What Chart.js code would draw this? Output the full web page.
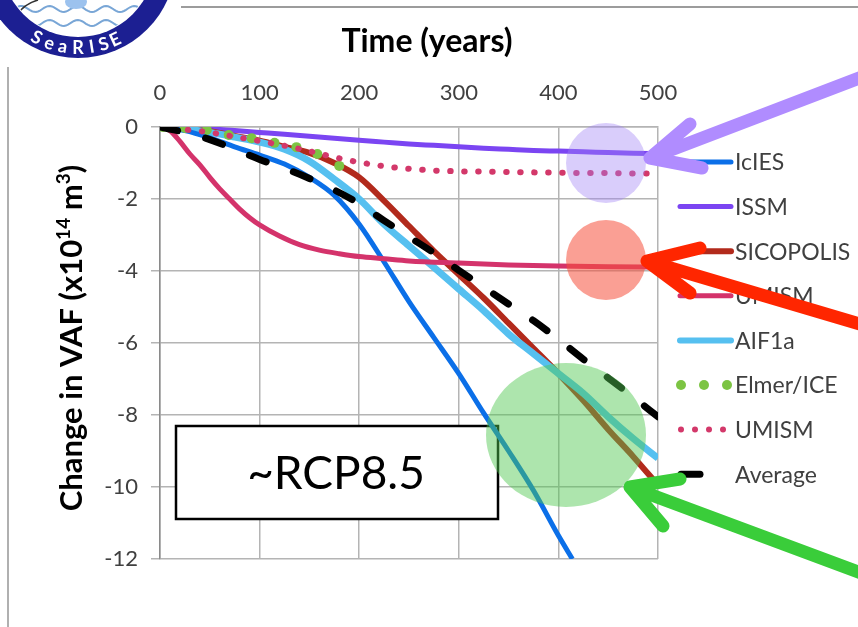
<!DOCTYPE html>
<html>
<head>
<meta charset="utf-8">
<script src="https://cdn.jsdelivr.net/npm/chart.js@4/dist/chart.umd.min.js"></script>
<style>
  html, body { margin: 0; padding: 0; background: #fff; overflow: hidden; }
  canvas { display: block; }
</style>
</head>
<body>
<canvas id="c" width="858" height="627"></canvas>
<script>
// Change in volume above flotation (x10^14 m^3) versus time (years)
const years = [0, 25, 50, 75, 100, 125, 150, 175, 200, 225, 250, 275, 300, 325, 350, 375, 400, 425, 450, 475, 500];

const iciesYears = [0, 25, 50, 75, 100, 125, 150, 175, 200, 225, 250, 275, 300, 325, 350, 375, 400, 414];
const iciesVaf   = [0, -0.1, -0.3, -0.55, -0.78, -1.03, -1.4, -1.9, -2.7, -3.75, -4.85, -5.85, -6.85, -7.95, -9.0, -10.1, -11.35, -12.0];

const issmVaf = [0, -0.02, -0.05, -0.1, -0.15, -0.2, -0.26, -0.31, -0.37, -0.42, -0.47, -0.51, -0.55, -0.59, -0.62, -0.65, -0.67, -0.69, -0.71, -0.73, -0.74];

const sicopolisVaf = [0, -0.04, -0.12, -0.25, -0.38, -0.55, -0.72, -1.0, -1.4, -2.05, -2.75, -3.45, -4.1, -4.75, -5.45, -6.15, -6.85, -7.6, -8.4, -9.15, -9.95];

const umismYears = [0, 10, 20, 30, 40, 50, 60, 70, 80, 90, 100, 120, 140, 160, 180, 200, 225, 250, 300, 350, 400, 450, 500];
const umismVaf   = [0, -0.1, -0.4, -0.75, -1.05, -1.4, -1.72, -2.0, -2.28, -2.52, -2.72, -3.03, -3.27, -3.42, -3.52, -3.6, -3.66, -3.72, -3.78, -3.83, -3.86, -3.88, -3.89];

const aif1aVaf = [0, -0.05, -0.15, -0.28, -0.42, -0.62, -0.95, -1.45, -2.0, -2.7, -3.3, -3.9, -4.5, -5.1, -5.75, -6.3, -6.85, -7.4, -8.05, -8.65, -9.2];

const elmerYears = [3, 25, 47, 69, 92, 115, 137, 158, 180];
const elmerVaf   = [0, -0.03, -0.08, -0.22, -0.31, -0.44, -0.56, -0.75, -1.08];

const umismHiVaf = [0, -0.07, -0.15, -0.27, -0.39, -0.52, -0.67, -0.84, -0.98, -1.09, -1.16, -1.21, -1.23, -1.24, -1.25, -1.26, -1.27, -1.28, -1.28, -1.29, -1.29];

const averageVaf = [0, -0.15, -0.35, -0.62, -0.9, -1.15, -1.43, -1.75, -2.13, -2.6, -3.05, -3.5, -3.98, -4.45, -4.92, -5.38, -5.9, -6.45, -6.97, -7.5, -8.05];

const xTicks = [0, 100, 200, 300, 400, 500];
const yTicks = [0, -2, -4, -6, -8, -10, -12];

const pts = (xs, ys) => xs.map((x, i) => ({ x: x, y: ys[i] }));

const FONT = 'Lato, "Open Sans", sans-serif';
const GRID = '#b4b4b4';

const datasets = [
  { label: 'IcIES', data: pts(iciesYears, iciesVaf), borderColor: '#0b6fe8', borderWidth: 5, order: 4 },
  { label: 'ISSM', data: pts(years, issmVaf), borderColor: '#7b45f2', borderWidth: 5, order: 7 },
  { label: 'SICOPOLIS', data: pts(years, sicopolisVaf), borderColor: '#b22a1c', borderWidth: 6, order: 6 },
  { label: 'UMISM', data: pts(umismYears, umismVaf), borderColor: '#d4336b', borderWidth: 5, order: 3 },
  { label: 'AIF1a', data: pts(years, aif1aVaf), borderColor: '#56c0f0', borderWidth: 7, order: 5 },
  { label: 'Elmer/ICE', data: pts(elmerYears, elmerVaf), showLine: false, pointRadius: 5, pointBorderWidth: 0,
    pointBackgroundColor: '#7cc443', borderColor: '#7cc443', order: 2 },
  { label: 'UMISM', data: pts(years, umismHiVaf), borderColor: '#d3386a', borderWidth: 6,
    borderDash: [0.5, 13.5], borderCapStyle: 'round', order: 1 },
  { label: 'Average', data: pts(years, averageVaf), borderColor: '#000000', borderWidth: 7,
    borderDash: [18, 29], borderCapStyle: 'round', order: 0 }
];
datasets.forEach(d => {
  d.fill = false;
  d.cubicInterpolationMode = 'monotone';
  if (d.pointRadius === undefined) d.pointRadius = 0;
});

function arrow(ctx, tail, tip, barbA, barbB, color, w) {
  ctx.save();
  ctx.strokeStyle = color;
  ctx.lineWidth = w;
  ctx.lineCap = 'round';
  ctx.lineJoin = 'round';
  ctx.beginPath();
  ctx.moveTo(tail[0], tail[1]); ctx.lineTo(tip[0], tip[1]);
  ctx.moveTo(barbA[0], barbA[1]); ctx.lineTo(tip[0], tip[1]); ctx.lineTo(barbB[0], barbB[1]);
  ctx.stroke();
  ctx.restore();
}

function drawLogo(ctx) {
  const cx = 78, cy = -40;
  ctx.save();
  ctx.beginPath(); ctx.arc(cx, cy, 98, 0, Math.PI * 2); ctx.fillStyle = '#1c1f92'; ctx.fill();
  ctx.beginPath(); ctx.arc(cx, cy, 77, 0, Math.PI * 2); ctx.fillStyle = '#ffffff'; ctx.fill();
  ctx.save();
  ctx.beginPath(); ctx.arc(cx, cy, 76, 0, Math.PI * 2); ctx.clip();
  ctx.strokeStyle = '#79a6d6'; ctx.lineWidth = 2;
  [9, 23].forEach(y0 => {
    ctx.beginPath();
    for (let x = 0; x <= 160; x += 2) {
      const y = y0 + 3 * Math.sin(x / 4.5);
      if (x === 0) ctx.moveTo(x, y); else ctx.lineTo(x, y);
    }
    ctx.stroke();
  });
  ctx.fillStyle = '#9cc2ee';
  ctx.beginPath(); ctx.ellipse(76, 2, 11, 7, 0, 0, Math.PI * 2); ctx.fill();
  ctx.strokeStyle = '#333'; ctx.lineWidth = 1.5;
  ctx.beginPath(); ctx.moveTo(18, 14); ctx.quadraticCurveTo(24, 4, 38, 0); ctx.stroke();
  ctx.restore();
  const letters = 'SeaRISE';
  const angles = [118, 109, 100, 90, 81, 73, 65];
  ctx.fillStyle = '#ffffff';
  ctx.font = 'bold 18px ' + FONT;
  ctx.textAlign = 'center'; ctx.textBaseline = 'middle';
  for (let i = 0; i < letters.length; i++) {
    const a = angles[i] * Math.PI / 180;
    ctx.save();
    ctx.translate(cx + 88 * Math.cos(a), cy + 88 * Math.sin(a));
    ctx.rotate(a - Math.PI / 2);
    ctx.fillText(letters[i], 0, 0);
    ctx.restore();
  }
  ctx.restore();
}

function drawYTitle(ctx) {
  const big = 'bold 31px ' + FONT, small = 'bold 19px ' + FONT;
  const parts = [['Change in VAF (x10', big, 0], ['14', small, -12], [' m', big, 0], ['3', small, -12], [')', big, 0]];
  ctx.save();
  let total = 0;
  parts.forEach(p => { ctx.font = p[1]; total += ctx.measureText(p[0]).width; });
  ctx.translate(82, 338);
  ctx.rotate(-Math.PI / 2);
  ctx.fillStyle = '#000';
  ctx.textBaseline = 'alphabetic';
  ctx.textAlign = 'left';
  let x = -total / 2;
  parts.forEach(p => {
    ctx.font = p[1];
    ctx.fillText(p[0], x, p[2]);
    x += ctx.measureText(p[0]).width;
  });
  ctx.restore();
}

function drawLegend(chart) {
  const ctx = chart.ctx;
  ctx.save();
  chart.data.datasets.forEach((ds, i) => {
    const y = 162 + i * 44.6;
    ctx.strokeStyle = ds.borderColor;
    ctx.fillStyle = ds.borderColor;
    ctx.lineCap = 'round';
    if (ds.showLine === false) {
      [681, 704, 727].forEach(x => { ctx.beginPath(); ctx.arc(x, y, ds.pointRadius, 0, Math.PI * 2); ctx.fill(); });
    } else if (ds.borderDash && ds.borderDash[0] < 1) {
      [681, 695, 709, 723].forEach(x => { ctx.beginPath(); ctx.arc(x, y, ds.borderWidth / 2, 0, Math.PI * 2); ctx.fill(); });
    } else if (ds.borderDash) {
      ctx.lineWidth = ds.borderWidth;
      ctx.beginPath(); ctx.moveTo(681, y); ctx.lineTo(700, y); ctx.stroke();
    } else {
      ctx.lineWidth = Math.min(ds.borderWidth, 6);
      ctx.beginPath(); ctx.moveTo(680, y); ctx.lineTo(731, y); ctx.stroke();
    }
    ctx.fillStyle = '#404040';
    ctx.font = '23px ' + FONT;
    ctx.textAlign = 'left';
    ctx.textBaseline = 'middle';
    ctx.fillText(ds.label, 735, y + 1);
  });
  ctx.restore();
}

const decor = {
  id: 'decor',
  beforeDatasetsDraw(chart) {
    const ctx = chart.ctx;
    ctx.save();
    ctx.fillStyle = '#ffffff';
    ctx.fillRect(176, 426, 322, 93);
    ctx.strokeStyle = '#000'; ctx.lineWidth = 2.5;
    ctx.strokeRect(176, 426, 322, 93);
    ctx.fillStyle = '#000';
    ctx.font = '46px ' + FONT;
    ctx.textAlign = 'center'; ctx.textBaseline = 'middle';
    ctx.fillText('~RCP8.5', 336, 474);
    ctx.restore();
  },
  afterDraw(chart) {
    const ctx = chart.ctx;
    ctx.save();
    // page frame lines
    ctx.strokeStyle = '#9c9c9c'; ctx.lineWidth = 2;
    ctx.beginPath(); ctx.moveTo(181, 7); ctx.lineTo(858, 7); ctx.stroke();
    ctx.strokeStyle = '#b0b0b0';
    ctx.beginPath(); ctx.moveTo(8, 67); ctx.lineTo(8, 627); ctx.stroke();
    ctx.restore();

    drawLogo(ctx);

    ctx.save();
    ctx.fillStyle = '#000';
    ctx.font = 'bold 32px ' + FONT;
    ctx.textAlign = 'center'; ctx.textBaseline = 'middle';
    ctx.fillText('Time (years)', 427, 42);
    ctx.restore();
    drawYTitle(ctx);

    drawLegend(chart);

    // highlight circles
    ctx.save();
    ctx.fillStyle = 'rgba(160,130,245,0.4)';
    ctx.beginPath(); ctx.arc(606, 163, 40, 0, Math.PI * 2); ctx.fill();
    ctx.fillStyle = 'rgba(245,80,60,0.55)';
    ctx.beginPath(); ctx.arc(606, 260, 40, 0, Math.PI * 2); ctx.fill();
    ctx.fillStyle = 'rgba(80,200,80,0.47)';
    ctx.beginPath(); ctx.ellipse(566, 435, 80, 72, 0, 0, Math.PI * 2); ctx.fill();
    ctx.restore();

    // arrows
    arrow(ctx, [880, 70], [650, 158], [690, 124], [702, 168], '#b08cff', 13);
    arrow(ctx, [880, 330], [647, 261], [700, 248], [690, 293], '#ff2600', 13);
    arrow(ctx, [880, 580], [630, 487], [680, 479], [663, 526], '#3acd3a', 13);
  }
};

new Chart(document.getElementById('c').getContext('2d'), {
  type: 'line',
  data: { datasets: datasets },
  options: {
    responsive: false,
    animation: false,
    devicePixelRatio: 1,
    layout: { padding: { left: 0, top: 0, right: 200, bottom: 68 } },
    plugins: { legend: { display: false }, tooltip: { enabled: false } },
    scales: {
      x: {
        type: 'linear', position: 'top', min: 0, max: 500,
        afterBuildTicks: s => { s.ticks = xTicks.map(v => ({ value: v })); },
        ticks: { font: { family: FONT, size: 22 }, color: '#404040', padding: 21 },
        grid: { color: GRID, lineWidth: 1.5, drawTicks: false },
        border: { color: GRID, width: 1.5 },
        afterFit: s => { s.height = 127; }
      },
      y: {
        type: 'linear', min: -12, max: 0,
        afterBuildTicks: s => { s.ticks = yTicks.map(v => ({ value: v })); },
        ticks: { font: { family: FONT, size: 22 }, color: '#404040', padding: 13 },
        grid: { color: GRID, lineWidth: 1.5, tickLength: 9 },
        border: { color: '#8a8a8a', width: 1.5 },
        afterFit: s => { s.width = 160; }
      }
    }
  },
  plugins: [decor]
});
</script>
</body>
</html>
